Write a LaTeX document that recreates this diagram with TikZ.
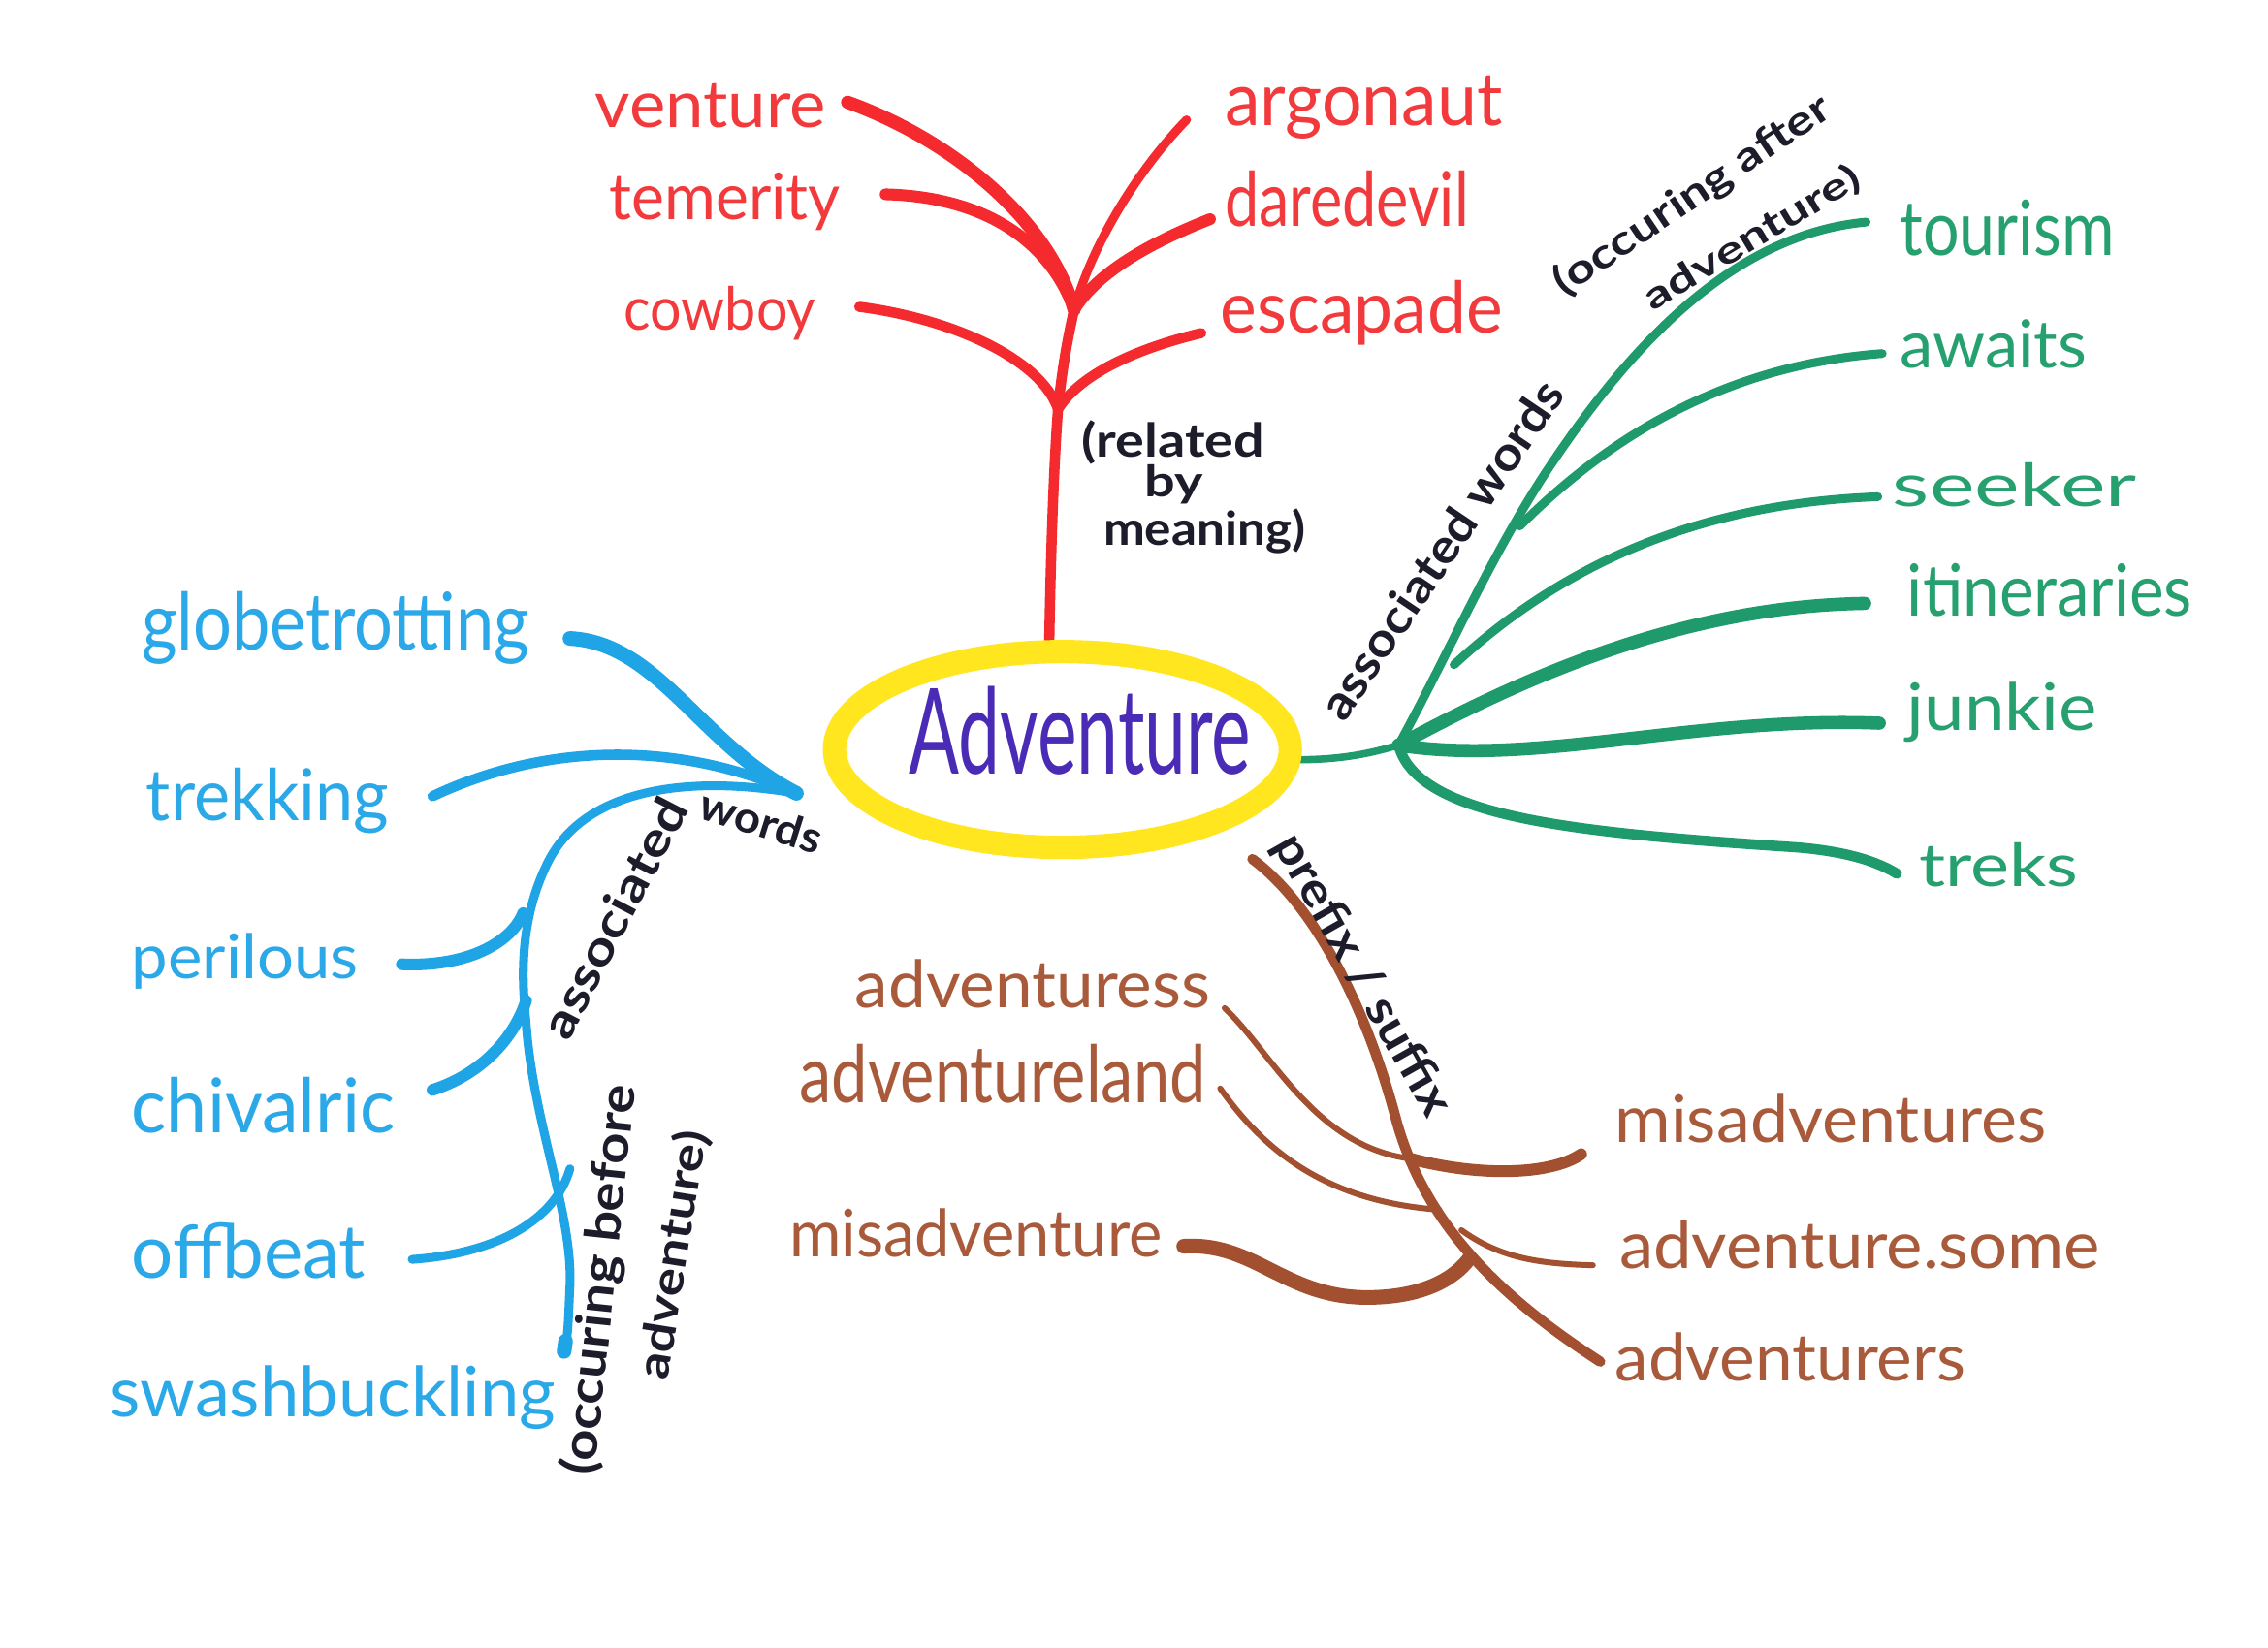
\documentclass[tikz,border=0pt]{standalone}
\usepackage{fontspec}
\setmainfont{Lato}
\usetikzlibrary{shapes.geometric}
\newdimen\unitpx \unitpx=1.5071pt
\newcommand{\hw}[3]{\resizebox{#1\unitpx}{#2\unitpx}{#3}}
\definecolor{cred}{HTML}{F42A2E}
\definecolor{tred}{HTML}{F23A3C}
\definecolor{cblue}{HTML}{1FA4E6}
\definecolor{tblue}{HTML}{2AA8E8}
\definecolor{cgreen}{HTML}{1F9A6C}
\definecolor{tgreen}{HTML}{27A070}
\definecolor{cbrown}{HTML}{A2502F}
\definecolor{tbrown}{HTML}{A85A3A}
\definecolor{cyel}{HTML}{FFE61E}
\definecolor{cpurp}{HTML}{4A2BB5}
\definecolor{cink}{HTML}{1C1C2A}
\tikzset{
  br/.style={line cap=round, line join=round, line width=#1\unitpx},
  word/.style={inner sep=0pt, anchor=base west, text=#1},
  note/.style={inner sep=0pt, text=cink, font=\bfseries},
}
\begin{document}
\begin{tikzpicture}[x=1.5071pt,y=-1.5071pt]
\fill[white] (0,0) rectangle (1552,1128);
\useasboundingbox (0,0) rectangle (1552,1128);

% ---------------- centre ----------------
\coordinate (cc) at (727,513);

% ---------------- red: related by meaning ----------------
\node[word=tred] (venture)   at (407,87)  {\hw{158}{30}{venture}};
\node[word=tred] (temerity)  at (417,150) {\hw{158}{32}{temerity}};
\node[word=tred] (cowboy)    at (427,226) {\hw{131}{30}{cowboy}};
\node[word=tred] (argonaut)  at (838,86)  {\hw{190}{34}{argonaut}};
\node[word=tred] (daredevil) at (838,155) {\hw{167}{38}{daredevil}};
\node[word=tred] (escapade)  at (835,228) {\hw{193}{36}{escapade}};

\coordinate (rTop)  at (735,212);
\coordinate (rMid)  at (724,280);
\coordinate (rBase) at (718,440);
\coordinate (rV) at (580,70);
\coordinate (rT) at (606,133);
\coordinate (rC) at (588,210);
\coordinate (rA) at (812,82);
\coordinate (rD) at (828,150);
\coordinate (rE) at (822,228);

\draw[cred, br=7] (rBase) .. controls (719,380) and (721,320) .. (rMid)
      .. controls (727,250) and (731,230) .. (rTop);
\draw[cred, br=9] (rV) .. controls (650,95) and (718,150) .. (rTop);
\draw[cred, br=8] (rT) .. controls (680,135) and (720,170) .. (rTop);
\draw[cred, br=6] (rA) .. controls (780,115) and (748,165) .. (rTop);
\draw[cred, br=8] (rD) .. controls (790,165) and (752,185) .. (rTop);
\draw[cred, br=7] (rC) .. controls (650,218) and (712,245) .. (rMid);
\draw[cred, br=7] (rE) .. controls (780,238) and (740,255) .. (rMid);

\node[word=cink, font=\bfseries] (rel1) at (740,313) {\hw{125}{25}{(related}};
\node[word=cink, font=\bfseries] (rel2) at (783,340) {\hw{40}{22}{by}};
\node[word=cink, font=\bfseries] (rel3) at (755,373) {\hw{138}{25}{meaning)}};

% ---------------- green: associated words (after) ----------------
\node[word=tgreen] (tourism)     at (1300,175) {\hw{147}{38}{tourism}};
\node[word=tgreen] (awaits)      at (1300,252) {\hw{128}{33}{awaits}};
\node[word=tgreen] (seeker)      at (1295,347) {\hw{167}{30}{seeker}};
\node[word=tgreen] (itineraries) at (1305,422) {\hw{195}{36}{itineraries}};
\node[word=tgreen] (junkie)      at (1305,500) {\hw{130}{33}{junkie}};
\node[word=tgreen] (treks)       at (1313,607) {\hw{109}{30}{treks}};

\coordinate (gS) at (888,520);
\coordinate (gJ) at (957,510);
\coordinate (gA) at (1040,360);
\coordinate (gB) at (995,455);
\coordinate (gTo) at (1277,152);
\coordinate (gAw) at (1288,242);
\coordinate (gSe) at (1285,340);
\coordinate (gIt) at (1276,413);
\coordinate (gJu) at (1286,495);
\coordinate (gTr) at (1298,598);

\draw[cgreen, br=5] (gS) .. controls (920,520) and (940,515) .. (gJ);
\draw[cgreen, br=6] (gJ) .. controls (990,450) and (1020,380) .. (1060,320)
      .. controls (1120,230) and (1190,160) .. (gTo);
\draw[cgreen, br=6] (gA) .. controls (1100,300) and (1180,250) .. (gAw);
\draw[cgreen, br=6] (gB) .. controls (1060,395) and (1150,345) .. (gSe);
\draw[cgreen, br=9] (gJ) .. controls (1040,465) and (1150,415) .. (gIt);
\draw[cgreen, br=9] (gJ) .. controls (1050,525) and (1160,490) .. (gJu);
\draw[cgreen, br=7] (gJ) .. controls (970,560) and (1080,570) .. (1230,580)
      .. controls (1265,583) and (1285,590) .. (gTr);

\node[note, rotate=56] (gassoc) at (986,376) {\hw{272}{24}{associated words}};
\node[note, rotate=34] (gocc1) at (1158,134) {\hw{222}{22}{(occuring after}};
\node[note, rotate=31] (gocc2) at (1199,163) {\hw{168}{20}{adventure)}};

% ---------------- blue: associated words (before) ----------------
\node[word=tblue] (globe)  at (97,445)  {\hw{265}{40}{globetrotting}};
\node[word=tblue] (trek)   at (100,562) {\hw{166}{36}{trekking}};
\node[word=tblue] (peril)  at (90,670)  {\hw{155}{31}{perilous}};
\node[word=tblue] (chiv)   at (90,775)  {\hw{180}{38}{chivalric}};
\node[word=tblue] (offb)   at (90,875)  {\hw{160}{38}{offbeat}};
\node[word=tblue] (swash)  at (75,970)  {\hw{305}{35}{swashbuckling}};

\coordinate (bJ) at (545,543);
\coordinate (bG) at (390,437);
\coordinate (bT) at (296,545);
\coordinate (bP) at (275,660);
\coordinate (bC) at (296,746);
\coordinate (bO) at (282,862);
\coordinate (bS) at (386,925);
\coordinate (b1) at (358,625);
\coordinate (b2) at (360,685);
\coordinate (b3) at (390,800);

\draw[cblue, br=10] (bG) .. controls (450,440) and (480,510) .. (bJ);
\draw[cblue, br=7] (bT) .. controls (370,510) and (460,505) .. (bJ);
\draw[cblue, br=6] (bJ) .. controls (470,530) and (400,540) .. (375,590)
      .. controls (355,630) and (357,670) .. (360,700)
      .. controls (365,770) and (392,830) .. (390,880)
      .. controls (389,900) and (389,915) .. (bS);
\draw[cblue, br=10] (bS) -- (387,918);
\draw[cblue, br=8] (bP) .. controls (320,662) and (350,645) .. (b1);
\draw[cblue, br=8] (bC) .. controls (330,735) and (352,710) .. (b2);
\draw[cblue, br=6] (bO) .. controls (340,858) and (380,835) .. (b3);

\node[note, rotate=62.6] (bassoc) at (420,628) {\hw{180}{24}{associated}};
\node[note, rotate=-17.5] (bwords) at (521,562) {\hw{86}{22}{words}};
\node[note, rotate=84] (bocc1) at (411,876) {\hw{268}{26}{(occuring before}};
\node[note, rotate=81] (bocc2) at (461,859) {\hw{172}{24}{adventure)}};

% ---------------- brown: prefix / suffix ----------------
\node[word=tbrown] (advss)   at (585,690)  {\hw{243}{33}{adventuress}};
\node[word=tbrown] (advland) at (547,755)  {\hw{278}{40}{adventureland}};
\node[word=tbrown] (misadv)  at (540,860)  {\hw{255}{33}{misadventure}};
\node[word=tbrown] (misadvs) at (1105,782) {\hw{295}{33}{misadventures}};
\node[word=tbrown] (advsome) at (1108,868) {\hw{329}{33}{adventure.some}};
\node[word=tbrown] (advrs)   at (1105,945) {\hw{240}{33}{adventurers}};

\coordinate (nS) at (857,588);
\coordinate (nE) at (1095,932);
\coordinate (n1) at (838,690);
\coordinate (n1j) at (965,793);
\coordinate (n1e) at (1082,790);
\coordinate (n2) at (835,745);
\coordinate (n2j) at (985,828);
\coordinate (n3j) at (1000,842);
\coordinate (n3e) at (1090,866);
\coordinate (n4) at (810,853);
\coordinate (n4j) at (1005,862);

\draw[cbrown, br=7] (nS) .. controls (900,620) and (935,690) .. (955,765)
      .. controls (975,840) and (1030,890) .. (nE);
\draw[cbrown, br=4] (n1) .. controls (870,720) and (900,785) .. (n1j);
\draw[cbrown, br=8] (n1j) .. controls (1010,805) and (1060,805) .. (n1e);
\draw[cbrown, br=4] (n2) .. controls (860,780) and (900,822) .. (n2j);
\draw[cbrown, br=4] (n3j) .. controls (1025,860) and (1050,865) .. (n3e);
\draw[cbrown, br=10] (n4) .. controls (860,850) and (880,890) .. (940,888)
      .. controls (975,887) and (995,875) .. (n4j);

\node[note, rotate=-60.6] (pref) at (932,668) {\hw{216}{24}{prefix / suffix}};

% ---------------- centre ellipse ----------------
\node[ellipse, draw=cyel, line width=16\unitpx, minimum width=312\unitpx,
      minimum height=134\unitpx, inner sep=0pt] (core) at (cc) {};
\node[word=cpurp] (advtitle) at (622,530) {\hw{234}{60}{Adventure}};
\end{tikzpicture}
\end{document}
